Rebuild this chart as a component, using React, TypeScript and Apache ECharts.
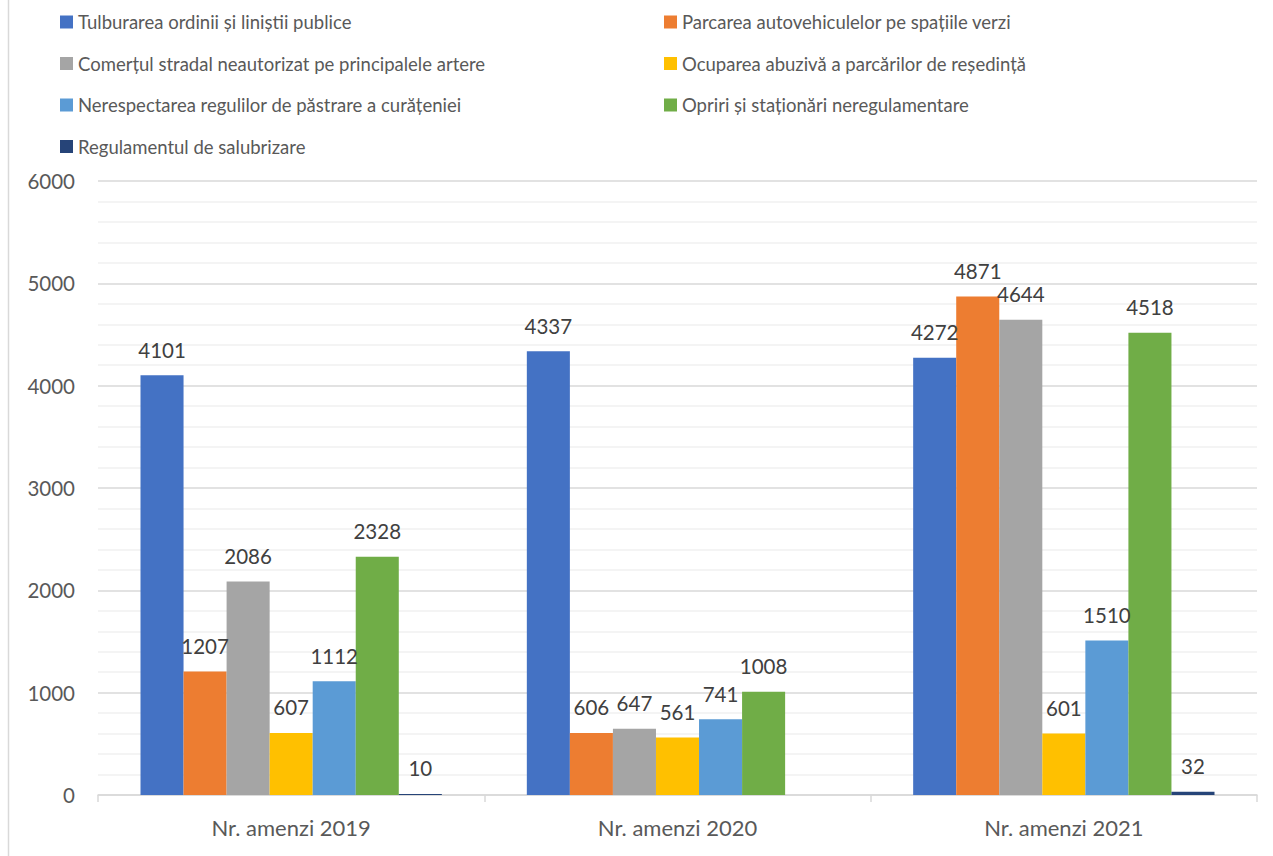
import React, { useEffect, useRef } from "react";
import * as echarts from "echarts";

const categories = ["Nr. amenzi 2019", "Nr. amenzi 2020", "Nr. amenzi 2021"];
const seriesNames = [
  "Tulburarea ordinii și liniștii publice",
  "Parcarea autovehiculelor pe spațiile verzi",
  "Comerțul stradal neautorizat pe principalele artere",
  "Ocuparea abuzivă a parcărilor de reședință",
  "Nerespectarea regulilor de păstrare a curățeniei",
  "Opriri și staționări neregulamentare",
  "Regulamentul de salubrizare",
];
const tulburarea = [4101, 4337, 4272];
const parcareaVerzi = [1207, 606, 4871];
const comertul = [2086, 647, 4644];
const ocuparea = [607, 561, 601];
const nerespectarea = [1112, 741, 1510];
const opriri = [2328, 1008, 4518];
const regulamentul: (number | null)[] = [10, null, 32];
const colors = ["#4472C4", "#ED7D31", "#A5A5A5", "#FFC000", "#5B9BD5", "#70AD47", "#264478"];
const yTicks = { min: 0, max: 6000, interval: 1000 };

const FONT = "Lato";

export default function App() {
  const ref = useRef<HTMLDivElement>(null);
  useEffect(() => {
    if (!ref.current) return;
    const chart = echarts.init(ref.current, null, { renderer: "svg" });
    const values = [tulburarea, parcareaVerzi, comertul, ocuparea, nerespectarea, opriri, regulamentul];
    const legendText = { color: "#595959", fontSize: 18.5, fontFamily: FONT, lineHeight: 20 };
    const legendCommon = {
      orient: "vertical" as const,
      top: 12,
      itemWidth: 13,
      itemHeight: 13,
      itemGap: 21.5,
      itemTextGap: 5,
      icon: "rect",
      textStyle: legendText,
      padding: 0,
    };
    chart.setOption({
      animation: false,
      color: colors,
      textStyle: { fontFamily: FONT },
      graphic: [
        {
          type: "line",
          shape: { x1: 8.5, y1: 0, x2: 8.5, y2: 856 },
          style: { stroke: "#d9d9d9", lineWidth: 1.5 },
        },
      ],
      legend: [
        { ...legendCommon, left: 60, data: [seriesNames[0], seriesNames[2], seriesNames[4], seriesNames[6]] },
        { ...legendCommon, left: 664, data: [seriesNames[1], seriesNames[3], seriesNames[5]] },
      ],
      grid: { left: 98, right: 16, top: 181, bottom: 61, containLabel: false },
      xAxis: {
        type: "category",
        data: categories,
        axisLine: { lineStyle: { color: "#d9d9d9", width: 1.5 } },
        axisTick: { show: true, length: 7, lineStyle: { color: "#d9d9d9", width: 1.5 } },
        axisLabel: { color: "#595959", fontSize: 22, fontFamily: FONT, margin: 21 },
      },
      yAxis: {
        type: "value",
        min: yTicks.min,
        max: yTicks.max,
        interval: yTicks.interval,
        axisLine: { show: false },
        axisTick: { show: false },
        axisLabel: {
          color: "#595959",
          fontSize: 20.5,
          fontFamily: FONT,
          margin: 23,
          formatter: (v: number) => String(v),
        },
        splitLine: { lineStyle: { color: "#d9d9d9", width: 1.5 } },
        minorTick: { show: false, splitNumber: 5 },
        minorSplitLine: { show: true, lineStyle: { color: "#f0f0f0", width: 1.5 } },
      },
      series: seriesNames.map((name, i) => ({
        name,
        type: "bar",
        data: values[i],
        barGap: "0%",
        barCategoryGap: "22%",
        label: {
          show: true,
          position: "top",
          distance: 15,
          color: "#404040",
          fontSize: 20.5,
          fontFamily: FONT,
        },
      })),
    });
    return () => chart.dispose();
  }, []);
  return (
    <div
      ref={ref}
      style={{ position: "fixed", left: 0, top: 0, width: 1273, height: 856, background: "#fff" }}
    />
  );
}
